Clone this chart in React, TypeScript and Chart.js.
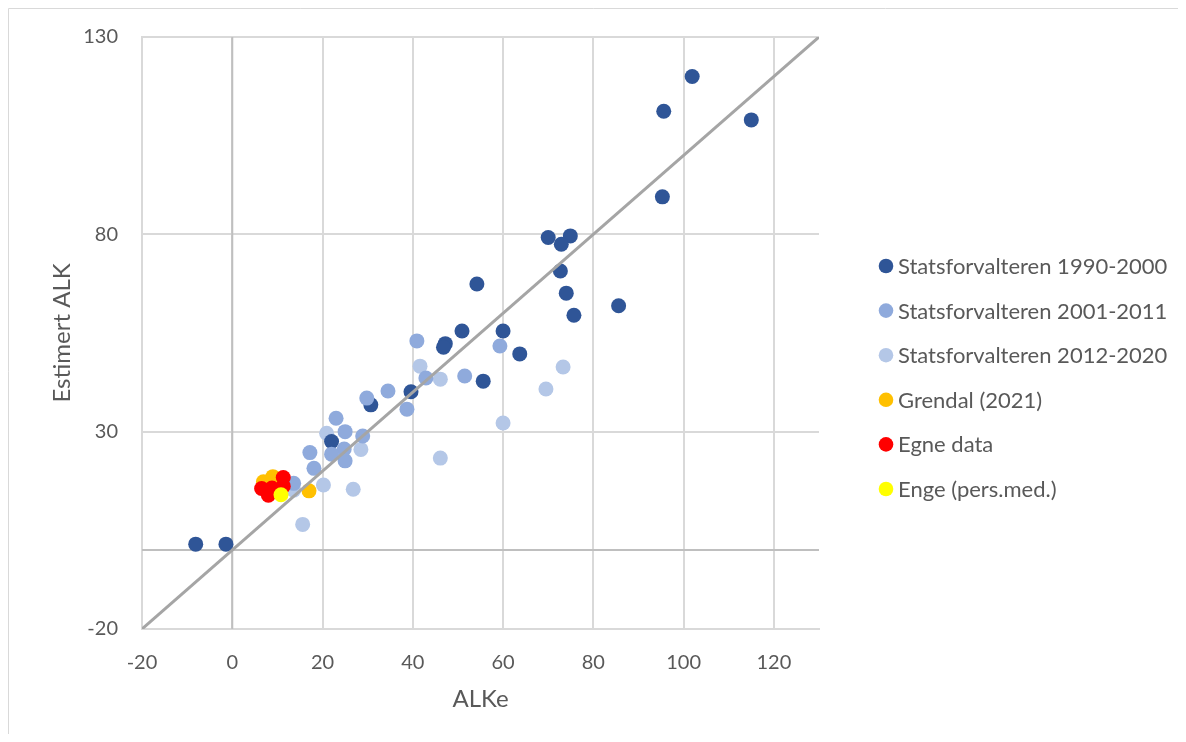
import { useEffect, useRef } from "react";
import { Chart, registerables } from "chart.js";

Chart.register(...registerables);

// Series names, in legend order
const seriesLabels = [
  "Statsforvalteren 1990-2000",
  "Statsforvalteren 2001-2011",
  "Statsforvalteren 2012-2020",
  "Grendal (2021)",
  "Egne data",
  "Enge (pers.med.)",
];

// ALKe (x) and estimated ALK (y) per series
const alkeSf1990 = [-8.1, -1.4, 101.9, 95.6, 115.0, 95.3, 70.0, 74.9, 72.9, 72.7, 74.0, 75.7, 85.6, 54.2, 50.9, 60.0, 47.2, 46.8, 63.7, 55.6, 39.6, 30.7, 22.0];
const alkSf1990 = [1.5, 1.5, 120.0, 111.2, 109.0, 89.5, 79.2, 79.6, 77.5, 70.7, 65.1, 59.5, 61.9, 67.4, 55.5, 55.5, 52.3, 51.4, 49.7, 42.8, 40.1, 36.8, 27.5];

const alkeSf2001 = [40.9, 59.3, 42.9, 51.5, 34.5, 38.7, 29.8, 23.0, 25.0, 28.9, 24.8, 17.2, 22.0, 25.0, 18.1, 13.6];
const alkSf2001 = [53.0, 51.7, 43.6, 44.1, 40.3, 35.7, 38.5, 33.4, 30.0, 28.9, 25.6, 24.7, 24.3, 22.6, 20.7, 16.9];

const alkeSf2012 = [41.6, 46.1, 73.3, 69.5, 60.0, 46.1, 20.9, 28.5, 20.2, 26.8, 15.6, 13.6];
const alkSf2012 = [46.6, 43.3, 46.4, 40.8, 32.2, 23.3, 29.6, 25.5, 16.5, 15.4, 6.5, 15.2];

const alkeGrendal = [6.9, 9.0, 17.0];
const alkGrendal = [17.3, 18.6, 15.0];

const alkeEgne = [11.3, 6.5, 8.0, 11.3, 8.8];
const alkEgne = [18.4, 15.6, 13.9, 16.2, 15.7];

const alkeEnge = [10.8];
const alkEnge = [14.0];

// 1:1 reference line
const refLineX = [-20, 130];
const refLineY = [-20, 130];

// Axis ranges and tick steps
const xMin = -20;
const xMax = 130;
const xStep = 20;
const yMin = -20;
const yMax = 130;
const yStep = 50;

const seriesColors = ["#2F5597", "#8FAADC", "#B4C7E7", "#FFC000", "#FF0000", "#FFFF00"];

const TEXT = "#595959";
const GRID = "#D9D9D9";
const AXIS = "#BFBFBF";
const FONT = "Lato";

const zip = (xs: number[], ys: number[]) => xs.map((x, i) => ({ x, y: ys[i] }));

// Solid axis lines through x = 0 and y = 0
const zeroLines = {
  id: "zeroLines",
  beforeDatasetsDraw(chart: any) {
    const { ctx, chartArea: a, scales } = chart;
    const px = scales.x.getPixelForValue(0);
    const py = scales.y.getPixelForValue(0);
    ctx.save();
    ctx.strokeStyle = AXIS;
    ctx.lineWidth = 2;
    ctx.beginPath();
    ctx.moveTo(px, a.top);
    ctx.lineTo(px, a.bottom);
    ctx.moveTo(a.left, py);
    ctx.lineTo(a.right, py);
    ctx.stroke();
    ctx.restore();
  },
};

// Thin frame along the top and left edges of the chart
const frame = {
  id: "frame",
  beforeDraw(chart: any) {
    const { ctx, width, height } = chart;
    ctx.save();
    ctx.strokeStyle = GRID;
    ctx.lineWidth = 1;
    ctx.beginPath();
    ctx.moveTo(0.5, height);
    ctx.lineTo(0.5, 0.5);
    ctx.lineTo(width, 0.5);
    ctx.stroke();
    ctx.restore();
  },
};

// Legend column to the right of the plot
const sideLegend = {
  id: "sideLegend",
  afterDraw(chart: any) {
    const { ctx, chartArea: a } = chart;
    ctx.save();
    ctx.font = `22px ${FONT}`;
    ctx.textBaseline = "middle";
    ctx.textAlign = "left";
    let row = 0;
    chart.data.datasets.forEach((ds: any) => {
      if (!ds.label) return;
      const cy = a.top + 229 + row * 44.6;
      const mx = a.right + 67;
      ctx.fillStyle = ds.backgroundColor;
      ctx.beginPath();
      ctx.arc(mx, cy, 7.3, 0, Math.PI * 2);
      ctx.fill();
      ctx.fillStyle = TEXT;
      ctx.fillText(ds.label, a.right + 79, cy + 1);
      row++;
    });
    ctx.restore();
  },
};

export default function App() {
  const canvasRef = useRef<HTMLCanvasElement | null>(null);

  useEffect(() => {
    if (!canvasRef.current) return;
    const xs = [alkeSf1990, alkeSf2001, alkeSf2012, alkeGrendal, alkeEgne, alkeEnge];
    const ys = [alkSf1990, alkSf2001, alkSf2012, alkGrendal, alkEgne, alkEnge];
    // later series sit above earlier ones; the pale series sits lowest
    const drawOrder = [6, 5, 7, 3, 2, 1];

    const pointSets = seriesLabels.map((label, i) => ({
      type: "scatter" as const,
      label,
      data: zip(xs[i], ys[i]),
      backgroundColor: seriesColors[i],
      borderWidth: 0,
      pointRadius: 7.5,
      pointHoverRadius: 7.5,
      pointBorderWidth: 0,
      order: drawOrder[i],
    }));

    const chart = new Chart(canvasRef.current, {
      type: "scatter",
      data: {
        datasets: [
          ...pointSets,
          {
            type: "scatter" as const,
            label: "",
            data: zip(refLineX, refLineY),
            showLine: true,
            borderColor: "#A5A5A5",
            backgroundColor: "#A5A5A5",
            borderWidth: 3,
            pointRadius: 0,
            order: 0,
          } as any,
        ],
      },
      options: {
        animation: false,
        responsive: true,
        maintainAspectRatio: false,
        devicePixelRatio: 1,
        layout: { padding: { top: 29, right: 359, bottom: 0, left: 0 } },
        plugins: {
          legend: { display: false },
          tooltip: { enabled: false },
        },
        scales: {
          x: {
            type: "linear",
            min: xMin,
            max: xMax,
            afterFit(scale: any) {
              scale.height = 105;
            },
            ticks: {
              stepSize: xStep,
              includeBounds: false,
              padding: 4,
              color: TEXT,
              font: { family: FONT, size: 20 },
            },
            grid: {
              color: GRID,
              lineWidth: 2,
              drawTicks: true,
              tickLength: 18,
              tickColor: "rgba(0,0,0,0)",
            },
            border: { color: GRID, width: 2 },
            title: {
              display: true,
              text: "ALKe",
              color: TEXT,
              font: { family: FONT, size: 24 },
              padding: { top: 0, bottom: 20 },
            },
          },
          y: {
            type: "linear",
            min: yMin,
            max: yMax,
            afterFit(scale: any) {
              scale.width = 134;
            },
            ticks: {
              stepSize: yStep,
              includeBounds: false,
              padding: 4,
              color: TEXT,
              font: { family: FONT, size: 20 },
            },
            grid: {
              color: GRID,
              lineWidth: 2,
              drawTicks: true,
              tickLength: 20,
              tickColor: "rgba(0,0,0,0)",
            },
            border: { color: GRID, width: 2 },
            title: {
              display: true,
              text: "Estimert ALK",
              color: TEXT,
              font: { family: FONT, size: 24 },
              padding: { top: 40, bottom: 0 },
            },
          },
        },
      },
      plugins: [frame, zeroLines, sideLegend],
    });

    return () => chart.destroy();
  }, []);

  return (
    <div style={{ position: "relative", width: 1170, height: 726 }}>
      <canvas ref={canvasRef} />
    </div>
  );
}
